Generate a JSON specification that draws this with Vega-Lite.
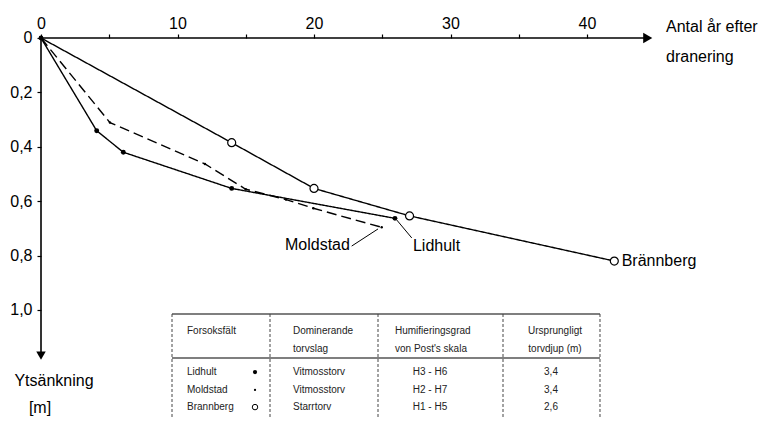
{
  "$schema": "https://vega.github.io/schema/vega-lite/v6.json",
  "width": 772,
  "height": 426,
  "padding": 0,
  "autosize": {"type": "none"},
  "background": "white",
  "config": {"view": {"stroke": null}, "font": "Liberation Sans"},
  "datasets": {
    "axes": [
      {"x": 0, "y": 0, "x2": 44.4, "y2": 0},
      {"x": 0, "y": 0, "x2": 0, "y2": 1.16}
    ],
    "arrowR": [{"x": 44.45, "y": 0}],
    "arrowD": [{"x": 0, "y": 1.168}],
    "series": [
      {"s": "Lidhult", "x": 0, "y": 0},
      {"s": "Lidhult", "x": 4.08, "y": 0.341},
      {"s": "Lidhult", "x": 6.03, "y": 0.42},
      {"s": "Lidhult", "x": 13.97, "y": 0.553},
      {"s": "Lidhult", "x": 25.93, "y": 0.663},
      {"s": "Moldstad", "x": 0, "y": 0},
      {"s": "Moldstad", "x": 5.05, "y": 0.311},
      {"s": "Moldstad", "x": 12.01, "y": 0.463},
      {"s": "Moldstad", "x": 15.0, "y": 0.556},
      {"s": "Moldstad", "x": 17.95, "y": 0.594},
      {"s": "Moldstad", "x": 19.95, "y": 0.626},
      {"s": "Moldstad", "x": 24.96, "y": 0.696},
      {"s": "Brännberg", "x": 0, "y": 0},
      {"s": "Brännberg", "x": 13.97, "y": 0.385},
      {"s": "Brännberg", "x": 20.0, "y": 0.553},
      {"s": "Brännberg", "x": 27.0, "y": 0.654},
      {"s": "Brännberg", "x": 42.0, "y": 0.82}
    ],
    "tableMarks": [
      {"s": "Lidhult", "x": 15.678, "y": 1.228},
      {"s": "Moldstad", "x": 15.678, "y": 1.294},
      {"s": "Brännberg", "x": 15.678, "y": 1.357}
    ],
    "leaders": [
      {"x": 22.76, "y": 0.765, "x2": 24.69, "y2": 0.702},
      {"x": 27.16, "y": 0.735, "x2": 26.06, "y2": 0.669}
    ],
    "labelsL": [
      {"t": "Moldstad", "x": 17.875, "y": 0.761},
      {"t": "Lidhult", "x": 27.25, "y": 0.765},
      {"t": "Brännberg", "x": 42.54, "y": 0.82},
      {"t": "Antal år efter", "x": 45.79, "y": -0.0404},
      {"t": "dranering", "x": 45.79, "y": 0.0699}
    ],
    "labelsC": [
      {"t": "Ytsänkning", "x": 0.952, "y": 1.261},
      {"t": "[m]", "x": -0.073, "y": 1.36}
    ],
    "tableH": [
      {"x": 9.597, "x2": 40.952, "y": 1.0147, "y2": 1.0147},
      {"x": 9.597, "x2": 40.952, "y": 1.1765, "y2": 1.1765}
    ],
    "tableV": [
      {"x": 9.597, "x2": 9.597, "y": 1.0147, "y2": 1.397},
      {"x": 16.777, "x2": 16.777, "y": 1.0147, "y2": 1.397},
      {"x": 24.689, "x2": 24.689, "y": 1.0147, "y2": 1.397},
      {"x": 33.846, "x2": 33.846, "y": 1.0147, "y2": 1.397},
      {"x": 40.952, "x2": 40.952, "y": 1.0147, "y2": 1.397}
    ],
    "tableTextL": [
      {"t": "Forsoksfält", "x": 10.696, "y": 1.0772},
      {"t": "Lidhult", "x": 10.696, "y": 1.228},
      {"t": "Moldstad", "x": 10.696, "y": 1.294},
      {"t": "Brannberg", "x": 10.696, "y": 1.357},
      {"t": "Dominerande", "x": 18.462, "y": 1.0772},
      {"t": "torvslag", "x": 18.462, "y": 1.1434},
      {"t": "Vitmosstorv", "x": 18.462, "y": 1.228},
      {"t": "Vitmosstorv", "x": 18.462, "y": 1.294},
      {"t": "Starrtorv", "x": 18.462, "y": 1.357},
      {"t": "Humifieringsgrad", "x": 25.934, "y": 1.0772},
      {"t": "von Post's skala", "x": 25.934, "y": 1.1434}
    ],
    "tableTextC": [
      {"t": "H3 - H6", "x": 28.498, "y": 1.228},
      {"t": "H2 - H7", "x": 28.498, "y": 1.294},
      {"t": "H1 - H5", "x": 28.498, "y": 1.357},
      {"t": "Ursprungligt", "x": 37.656, "y": 1.0772},
      {"t": "torvdjup (m)", "x": 37.656, "y": 1.1434},
      {"t": "3,4", "x": 37.363, "y": 1.228},
      {"t": "3,4", "x": 37.363, "y": 1.294},
      {"t": "2,6", "x": 37.363, "y": 1.357}
    ]
  },
  "encoding": {
    "x": {
      "field": "x",
      "type": "quantitative",
      "scale": {"domain": [-3.004, 53.553], "nice": false, "zero": false},
      "axis": {
        "orient": "top",
        "offset": -38,
        "values": [0, 5, 10, 15, 20, 25, 30, 35, 40],
        "labelExpr": "datum.value % 10 === 0 ? datum.label : ''",
        "domain": false,
        "grid": false,
        "title": null,
        "tickSize": 4,
        "tickColor": "black",
        "tickWidth": 1.2,
        "labelFont": "Liberation Sans",
        "labelFontSize": 16,
        "labelColor": "black",
        "labelPadding": 3,
        "labelFlush": false,
        "labelOverlap": false
      }
    },
    "y": {
      "field": "y",
      "type": "quantitative",
      "scale": {"domain": [-0.1397, 1.4265], "reverse": true, "nice": false, "zero": false},
      "axis": {
        "orient": "left",
        "offset": -41,
        "values": [0, 0.2, 0.4, 0.6, 0.8, 1.0],
        "labelExpr": "datum.value == 0 ? '0' : replace(format(datum.value, '.1f'), '.', ',')",
        "domain": false,
        "grid": false,
        "title": null,
        "tickSize": 4,
        "tickColor": "black",
        "tickWidth": 1.2,
        "labelFont": "Liberation Sans",
        "labelFontSize": 16,
        "labelColor": "black",
        "labelPadding": 5,
        "labelFlush": false,
        "labelOverlap": false
      }
    }
  },
  "layer": [
    {
      "data": {"name": "axes"},
      "mark": {"type": "rule", "color": "black", "strokeWidth": 1.6},
      "encoding": {"x2": {"field": "x2"}, "y2": {"field": "y2"}}
    },
    {
      "data": {"name": "arrowR"},
      "mark": {"type": "point", "shape": "triangle-right", "filled": true, "color": "black", "size": 110, "opacity": 1}
    },
    {
      "data": {"name": "arrowD"},
      "mark": {"type": "point", "shape": "triangle-down", "filled": true, "color": "black", "size": 90, "opacity": 1}
    },
    {
      "data": {"name": "series"},
      "mark": {"type": "line", "color": "black", "strokeWidth": 1.4},
      "encoding": {
        "detail": {"field": "s"},
        "strokeDash": {
          "field": "s",
          "type": "nominal",
          "scale": {"domain": ["Lidhult", "Moldstad", "Brännberg"], "range": [[1, 0], [10, 5], [1, 0]]},
          "legend": null
        }
      }
    },
    {
      "data": {"name": "series"},
      "transform": [{"filter": "datum.s === 'Lidhult'"}],
      "mark": {"type": "point", "shape": "circle", "filled": true, "color": "black", "size": 24, "opacity": 1}
    },
    {
      "data": {"name": "series"},
      "transform": [{"filter": "datum.s === 'Moldstad' && datum.x > 0"}],
      "mark": {"type": "point", "shape": "circle", "filled": true, "color": "black", "size": 6, "opacity": 1}
    },
    {
      "data": {"name": "series"},
      "transform": [{"filter": "datum.s === 'Brännberg' && datum.x > 0"}],
      "mark": {"type": "point", "shape": "circle", "filled": true, "fill": "white", "stroke": "black", "strokeWidth": 1.2, "size": 64, "opacity": 1}
    },
    {
      "data": {"name": "leaders"},
      "mark": {"type": "rule", "color": "black", "strokeWidth": 1},
      "encoding": {"x2": {"field": "x2"}, "y2": {"field": "y2"}}
    },
    {
      "data": {"name": "labelsL"},
      "mark": {"type": "text", "align": "left", "baseline": "middle", "font": "Liberation Sans", "fontSize": 16, "color": "black"},
      "encoding": {"text": {"field": "t"}}
    },
    {
      "data": {"name": "labelsC"},
      "mark": {"type": "text", "align": "center", "baseline": "middle", "font": "Liberation Sans", "fontSize": 16, "color": "black"},
      "encoding": {"text": {"field": "t"}}
    },
    {
      "data": {"name": "tableH"},
      "mark": {"type": "rule", "color": "black", "strokeWidth": 1.2},
      "encoding": {"x2": {"field": "x2"}, "y2": {"field": "y2"}}
    },
    {
      "data": {"name": "tableV"},
      "mark": {"type": "rule", "color": "#444", "strokeWidth": 1, "strokeDash": [3, 2]},
      "encoding": {"x2": {"field": "x2"}, "y2": {"field": "y2"}}
    },
    {
      "data": {"name": "tableTextL"},
      "mark": {"type": "text", "align": "left", "baseline": "middle", "font": "Liberation Sans", "fontSize": 10, "color": "#222"},
      "encoding": {"text": {"field": "t"}}
    },
    {
      "data": {"name": "tableTextC"},
      "mark": {"type": "text", "align": "center", "baseline": "middle", "font": "Liberation Sans", "fontSize": 10, "color": "#222"},
      "encoding": {"text": {"field": "t"}}
    },
    {
      "data": {"name": "tableMarks"},
      "transform": [{"filter": "datum.s === 'Lidhult'"}],
      "mark": {"type": "point", "shape": "circle", "filled": true, "color": "black", "size": 18, "opacity": 1}
    },
    {
      "data": {"name": "tableMarks"},
      "transform": [{"filter": "datum.s === 'Moldstad'"}],
      "mark": {"type": "point", "shape": "circle", "filled": true, "color": "black", "size": 5, "opacity": 1}
    },
    {
      "data": {"name": "tableMarks"},
      "transform": [{"filter": "datum.s === 'Brännberg'"}],
      "mark": {"type": "point", "shape": "circle", "filled": false, "color": "black", "strokeWidth": 1, "size": 30, "opacity": 1}
    }
  ]
}
